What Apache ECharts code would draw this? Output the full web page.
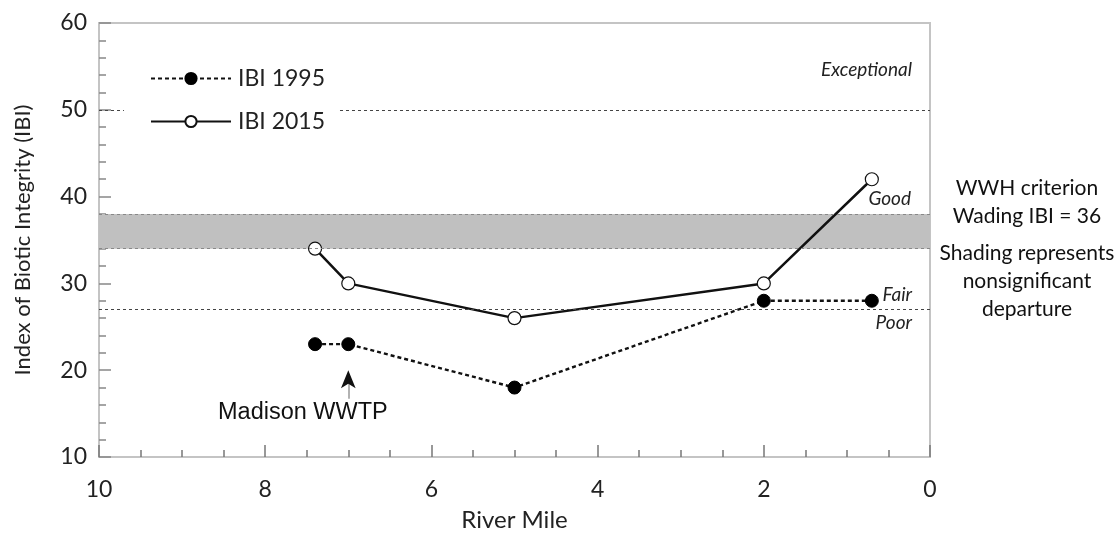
<!DOCTYPE html>
<html>
<head>
<meta charset="utf-8">
<script src="https://cdn.jsdelivr.net/npm/echarts@6/dist/echarts.min.js"></script>
<style>html,body{margin:0;padding:0;background:#fff}#c{width:1118px;height:537px}</style>
</head>
<body>
<div id="c"></div>
<script>
var riverMile1995 = [7.4, 7.0, 5.0, 2.0, 0.7];
var ibi1995 = [23, 23, 18, 28, 28];
var riverMile2015 = [7.4, 7.0, 5.0, 2.0, 0.7];
var ibi2015 = [34, 30, 26, 30, 42];
var exceptionalLine = 50;
var fairPoorLine = 27;
var bandLow = 34;
var bandHigh = 38;
var xTicks = [10, 8, 6, 4, 2, 0];
var yTicks = [10, 20, 30, 40, 50, 60];
var wwtpMile = 7.0;

var FONT = 'Lato';
function pairs(xs, ys){ return xs.map(function(x,i){ return [x, ys[i]]; }); }

var chart = echarts.init(document.getElementById('c'), null, {renderer:'canvas'});
var dotted = {type:[3,3], color:'#444', width:1.2};
var bandDot = {type:[3,3], color:'#888', width:1};

var option = {
  animation:false,
  backgroundColor:'#fff',
  grid:{left:99, top:23, right:188, bottom:80, containLabel:false, outerBoundsMode:'none',
    show:true, borderColor:'#c4c4c4', borderWidth:2, backgroundColor:'transparent'},
  legend:{
    data:['IBI 1995','IBI 2015'], orient:'vertical', left:145, top:62,
    itemWidth:80, itemHeight:14, itemGap:20,
    textStyle:{fontFamily:FONT, fontSize:23, color:'#222', padding:[0,0,0,2]}
  },
  xAxis:{
    type:'value', min:0, max:10, interval:2, inverse:true,
    name:'River Mile', nameLocation:'middle', nameGap:51,
    nameTextStyle:{fontFamily:FONT, fontSize:24, color:'#222'},
    axisLine:{show:true, onZero:false, lineStyle:{color:'#c4c4c4', width:2}},
    axisTick:{show:true, inside:true, length:12, lineStyle:{color:'#777', width:1.5}},
    minorTick:{show:true, splitNumber:4, length:7, lineStyle:{color:'#777', width:1.5}},
    splitLine:{show:false},
    axisLabel:{fontFamily:FONT, fontSize:23, color:'#222', margin:21,
      formatter:function(v){ return xTicks.indexOf(v)>=0 ? String(v) : ''; }}
  },
  yAxis:{
    type:'value', min:10, max:60, interval:10, position:'left',
    name:'Index of Biotic Integrity (IBI)', nameLocation:'middle', nameGap:65,
    nameTextStyle:{fontFamily:FONT, fontSize:22, color:'#222'},
    axisLine:{show:true, onZero:false, lineStyle:{color:'#c4c4c4', width:2}},
    axisTick:{show:true, inside:true, length:12, lineStyle:{color:'#888', width:1.5}},
    minorTick:{show:true, splitNumber:5, length:7, lineStyle:{color:'#888', width:1.5}},
    splitLine:{show:false},
    axisLabel:{fontFamily:FONT, fontSize:23, color:'#222', margin:12,
      formatter:function(v){ return yTicks.indexOf(v)>=0 ? String(v) : ''; }}
  },
  series:[
    {
      name:'refs', type:'line', data:[], silent:true,
      markArea:{silent:true, itemStyle:{color:'#c0c0c0'},
        data:[[{yAxis:bandLow, xAxis:10},{yAxis:bandHigh, xAxis:0}]]},
      markLine:{silent:true, symbol:'none', label:{show:false},
        data:[
          [{coord:[10, exceptionalLine], lineStyle:dotted},{coord:[9.7, exceptionalLine]}],
          [{coord:[7.1, exceptionalLine], lineStyle:dotted},{coord:[0, exceptionalLine]}],
          [{coord:[10, fairPoorLine], lineStyle:dotted},{coord:[0, fairPoorLine]}],
          [{coord:[10, bandHigh], lineStyle:bandDot},{coord:[0, bandHigh]}],
          [{coord:[10, bandLow], lineStyle:bandDot},{coord:[0, bandLow]}],
          [{coord:[wwtpMile, 16.7], lineStyle:{type:'solid', color:'#999', width:1.5}},{coord:[wwtpMile, 19.2]}]
        ]},
      markPoint:{silent:true, label:{show:false},
        data:[{coord:[wwtpMile, 20.0], symbol:'arrow', symbolSize:[11,18], itemStyle:{color:'#111'}}]}
    },
    {
      name:'IBI 2015', type:'line', data:pairs(riverMile2015, ibi2015),
      symbol:'circle', symbolSize:13, showAllSymbol:true,
      lineStyle:{color:'#111', width:2.5, type:'solid'},
      itemStyle:{color:'#fff', borderColor:'#111', borderWidth:1.2},
      z:3
    },
    {
      name:'IBI 1995', type:'line', data:pairs(riverMile1995, ibi1995),
      symbol:'circle', symbolSize:13, showAllSymbol:true,
      lineStyle:{color:'#111', width:2.4, type:[4,3]},
      itemStyle:{color:'#000', borderColor:'#000', borderWidth:1},
      z:4
    }
  ],
  graphic:[
    {type:'text', right:206, top:60, style:{text:'Exceptional', font:'italic 19px '+FONT, fill:'#222', textAlign:'right'}},
    {type:'text', right:207, top:189, style:{text:'Good', font:'italic 19px '+FONT, fill:'#222', textAlign:'right'}},
    {type:'text', right:206, top:285, style:{text:'Fair', font:'italic 19px '+FONT, fill:'#222', textAlign:'right'}},
    {type:'text', right:206, top:313, style:{text:'Poor', font:'italic 19px '+FONT, fill:'#222', textAlign:'right'}},
    {type:'text', left:218, top:401, style:{text:'Madison WWTP', font:'23.5px "Liberation Sans"', fill:'#111'}},
    {type:'text', x:1027, y:188, style:{text:'WWH criterion', font:'21px '+FONT, fill:'#111', textAlign:'center', textVerticalAlign:'middle'}},
    {type:'text', x:1027, y:216, style:{text:'Wading IBI = 36', font:'21px '+FONT, fill:'#111', textAlign:'center', textVerticalAlign:'middle'}},
    {type:'text', x:1027, y:253, style:{text:'Shading represents', font:'21px '+FONT, fill:'#111', textAlign:'center', textVerticalAlign:'middle'}},
    {type:'text', x:1027, y:281, style:{text:'nonsignificant', font:'21px '+FONT, fill:'#111', textAlign:'center', textVerticalAlign:'middle'}},
    {type:'text', x:1027, y:309, style:{text:'departure', font:'21px '+FONT, fill:'#111', textAlign:'center', textVerticalAlign:'middle'}}
  ]
};
chart.setOption(option);
</script>
</body>
</html>
